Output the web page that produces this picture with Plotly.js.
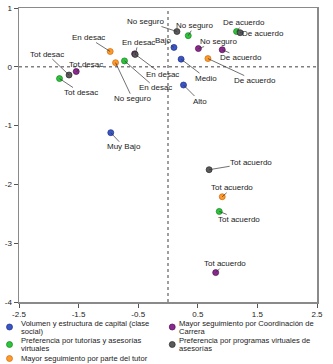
<!DOCTYPE html>
<html>
<head>
<meta charset="utf-8">
<script src="https://cdn.plot.ly/plotly-3.0.1.min.js"></script>
<style>
  html, body { margin: 0; padding: 0; background: #fff; }
  #chart { width: 333px; height: 364px; }
</style>
</head>
<body>
<div id="chart"></div>
<script>
// values
var volLabels = ["Muy Bajo", "Bajo", "Medio", "Alto"];
var volX = [-0.96, 0.10, 0.22, 0.26];
var volY = [-1.12, 0.33, 0.13, -0.31];

var tutLabels = ["Tot desac", "En desac", "No seguro", "De acuerdo", "Tot acuerdo"];
var tutX = [-1.82, -0.73, 0.34, 1.15, 0.86];
var tutY = [-0.20, 0.10, 0.53, 0.60, -2.46];

var tutorLabels = ["En desac", "No seguro", "De acuerdo", "Tot acuerdo"];
var tutorX = [-0.97, -0.88, 0.67, 0.91];
var tutorY = [0.26, 0.07, 0.14, -2.21];

var coordLabels = ["Tot desac", "En desac", "No seguro", "De acuerdo", "Tot acuerdo"];
var coordX = [-1.54, -0.56, 0.51, 0.91, 0.80];
var coordY = [-0.08, 0.22, 0.31, 0.29, -3.50];

var progLabels = ["Tot desac", "En desac", "No seguro", "De acuerdo", "Tot acuerdo"];
var progX = [-1.66, -0.55, 0.15, 1.21, 0.69];
var progY = [-0.14, 0.21, 0.60, 0.58, -1.75];

var seriesNames = [
  "Volumen y estructura de capital (clase social)",
  "Mayor seguimiento por Coordinación de Carrera",
  "Preferencia por tutorías y asesorías virtuales",
  "Preferencia por programas virtuales de asesorías",
  "Mayor seguimiento por parte del tutor"
];

var xTicks = [-2.5, -1.5, -0.5, 0.5, 1.5, 2.5];
var yTicks = [-4, -3, -2, -1, 0, 1];

// label offsets in pixels (text centre minus point)
var volOff = [[13, 14], [-10, -7], [25, 19], [16, 16]];
var tutOff = [[21, 14], [31, 27], [6, -10], [7, -9], [20, 8]];
var tutorOff = [[-22, -14], [17, 36], [47, 22], [10, -9]];
var coordOff = [[10, -7], [28, 21], [20, -7], [19, 8], [9, -9]];
var progOff = [[-22, -21], [3, -12], [-31, -10], [23, 1], [42, -7]];

var colors = ["#3a55c8", "#8a2a8e", "#2ec43c", "#5a5a5a", "#ff9a2a"];
var edges = ["#1d2f80", "#4e0f52", "#13801d", "#2a2a2a", "#c86a10"];

var FONT = "Liberation Sans, Arial, sans-serif";

function pt(name, x, y, labels, i) {
  return {
    type: "scatter", mode: "markers", name: name,
    x: x, y: y, text: labels, showlegend: false,
    marker: {size: 6, color: colors[i], line: {width: 0.7, color: edges[i]}},
    hoverinfo: "text"
  };
}

var data = [
  pt(seriesNames[0], volX, volY, volLabels, 0),
  pt(seriesNames[1], coordX, coordY, coordLabels, 1),
  pt(seriesNames[2], tutX, tutY, tutLabels, 2),
  pt(seriesNames[3], progX, progY, progLabels, 3),
  pt(seriesNames[4], tutorX, tutorY, tutorLabels, 4)
];

var annotations = [];
function addLabels(x, y, labels, off) {
  for (var i = 0; i < labels.length; i++) {
    annotations.push({
      x: x[i], y: y[i], text: labels[i],
      showarrow: true, arrowhead: 0, arrowwidth: 0.7, arrowcolor: "#333",
      ax: off[i][0], ay: off[i][1], standoff: 0, borderpad: 0,
      font: {family: FONT, size: 8, color: "#222"}
    });
  }
}
addLabels(volX, volY, volLabels, volOff);
addLabels(tutX, tutY, tutLabels, tutOff);
addLabels(tutorX, tutorY, tutorLabels, tutorOff);
addLabels(coordX, coordY, coordLabels, coordOff);
addLabels(progX, progY, progLabels, progOff);

// hand-made legend below the plot (pixel -> paper helpers)
var L = 18.5, R = 317, T = 8, B = 302;
function px(v) { return (v - L) / (R - L); }
function py(v) { return (B - v) / (B - T); }

var legendLines = [
  [20, 323, "Volumen y estructura de capital (clase"],
  [20, 331, "social)"],
  [20, 340.5, "Preferencia por tutorías y asesorías"],
  [20, 348.5, "virtuales"],
  [20, 358.5, "Mayor seguimiento por parte del tutor"],
  [178, 323, "Mayor seguimiento por Coordinación de"],
  [178, 331, "Carrera"],
  [178, 340.5, "Preferencia por programas virtuales de"],
  [178, 348.5, "asesorías"]
];
legendLines.forEach(function (l) {
  annotations.push({
    xref: "paper", yref: "paper", x: px(l[0]), y: py(l[1]),
    xanchor: "left", yanchor: "middle", showarrow: false, text: l[2],
    borderpad: 0,
    font: {family: FONT, size: 7.6, color: "#222"}
  });
});

var legendDots = [[9, 327, 0], [172, 327, 1], [9, 344.5, 2], [172, 344.5, 3], [9, 358.5, 4]];
var shapes = [
  {type: "line", xref: "x", yref: "paper", x0: 0, x1: 0, y0: 0, y1: 1,
   line: {color: "#808080", width: 1.5, dash: "dot"}},
  {type: "line", xref: "paper", yref: "y", x0: 0, x1: 1, y0: 0, y1: 0,
   line: {color: "#808080", width: 1.5, dash: "dot"}}
];
legendDots.forEach(function (d) {
  shapes.push({
    type: "circle", xref: "paper", yref: "paper",
    x0: px(d[0] - 3), x1: px(d[0] + 3), y0: py(d[1] + 3), y1: py(d[1] - 3),
    fillcolor: colors[d[2]], line: {color: edges[d[2]], width: 0.7}
  });
});

var layout = {
  width: 333, height: 364,
  margin: {l: 18.5, r: 16, t: 8, b: 62, pad: 0},
  paper_bgcolor: "#fff", plot_bgcolor: "#fff",
  font: {family: FONT, size: 8, color: "#222"},
  showlegend: false,
  xaxis: {
    range: [-2.5, 2.5], tickvals: xTicks, ticktext: xTicks.map(String),
    showgrid: false, zeroline: false,
    showline: true, mirror: true, linecolor: "#8a8a8a", linewidth: 1.5,
    ticks: "outside", ticklen: 4, tickcolor: "#555", tickwidth: 1,
    tickfont: {family: FONT, size: 8, color: "#222"}
  },
  yaxis: {
    range: [-4, 1], tickvals: yTicks, ticktext: yTicks.map(String),
    showgrid: false, zeroline: false,
    showline: true, mirror: true, linecolor: "#8a8a8a", linewidth: 1.5,
    ticks: "outside", ticklen: 4, tickcolor: "#555", tickwidth: 1,
    tickfont: {family: FONT, size: 8, color: "#222"}
  },
  shapes: shapes,
  annotations: annotations
};

Plotly.newPlot("chart", data, layout, {staticPlot: true, displayModeBar: false});
</script>
</body>
</html>
